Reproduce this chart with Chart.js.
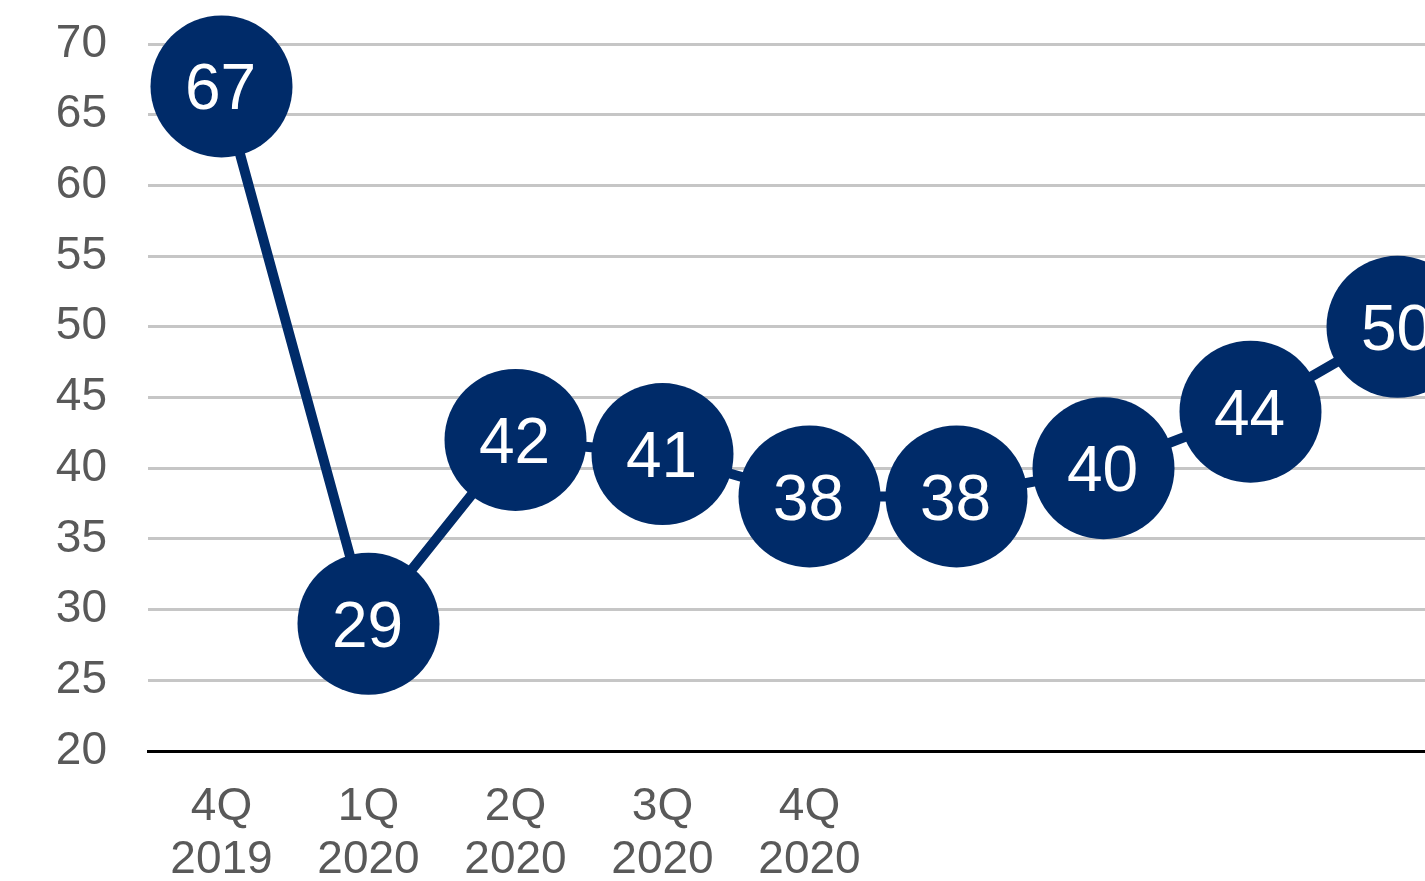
<!DOCTYPE html>
<html>
<head>
<meta charset="utf-8">
<script src="https://cdn.jsdelivr.net/npm/chart.js@4"></script>
<style>
  html, body { margin: 0; padding: 0; background: #fff; overflow: hidden; }
  #wrap { width: 1425px; height: 881px; overflow: hidden; }
  #chart { width: 1471px; height: 881px; display: block; }
</style>
</head>
<body>
<div id="wrap"><canvas id="chart" width="1471" height="881"></canvas></div>
<script>
// categories (later quarters have no visible label in the crop)
const quarters = [['4Q', '2019'], ['1Q', '2020'], ['2Q', '2020'], ['3Q', '2020'], ['4Q', '2020'], '', '', '', ''];
const values = [67, 29, 42, 41, 38, 38, 40, 44, 50];
const yTicks = [20, 25, 30, 35, 40, 45, 50, 55, 60, 65, 70];

const navy = '#002b69';
const grey = '#595959';
const font = 'Arial, "Liberation Sans", sans-serif';

// write each value inside its circle
const valueLabels = {
  id: 'valueLabels',
  afterDatasetsDraw(chart) {
    const ctx = chart.ctx;
    const size = 64;
    ctx.save();
    ctx.fillStyle = '#fff';
    ctx.font = size + 'px ' + font;
    ctx.textAlign = 'center';
    ctx.textBaseline = 'alphabetic';
    chart.getDatasetMeta(0).data.forEach((pt, i) => {
      ctx.fillText(String(values[i]), pt.x - 1, pt.y + size * 0.36);
    });
    ctx.restore();
  }
};

new Chart(document.getElementById('chart'), {
  type: 'line',
  data: {
    labels: quarters,
    datasets: [{
      data: values,
      borderColor: navy,
      borderWidth: 10,
      backgroundColor: navy,
      pointBackgroundColor: navy,
      pointBorderWidth: 0,
      pointRadius: 71,
      pointHoverRadius: 71,
      tension: 0,
      clip: false
    }]
  },
  options: {
    responsive: false,
    animation: false,
    events: [],
    layout: { autoPadding: false, padding: { top: 44, right: 0, left: 0, bottom: 0 } },
    plugins: {
      legend: { display: false },
      tooltip: { enabled: false }
    },
    scales: {
      x: {
        offset: true,
        grid: { display: false, drawTicks: false },
        border: { display: true, color: '#000', width: 3 },
        ticks: {
          color: grey,
          padding: 30,
          maxRotation: 0,
          autoSkip: false,
          font: { family: font, size: 46, lineHeight: 1.15 }
        },
        afterFit(scale) { scale.height = 130; }
      },
      y: {
        min: 20,
        max: 70,
        afterBuildTicks(scale) { scale.ticks = yTicks.map(v => ({ value: v })); },
        grid: { color: '#c6c6c6', lineWidth: 3, drawTicks: false },
        border: { display: false },
        ticks: {
          color: grey,
          padding: 41,
          font: { family: font, size: 46 }
        },
        afterFit(scale) {
          scale.width = 148;
          scale.paddingTop = 0;
          scale.paddingBottom = 0;
        }
      }
    }
  },
  plugins: [valueLabels]
});
</script>
</body>
</html>
